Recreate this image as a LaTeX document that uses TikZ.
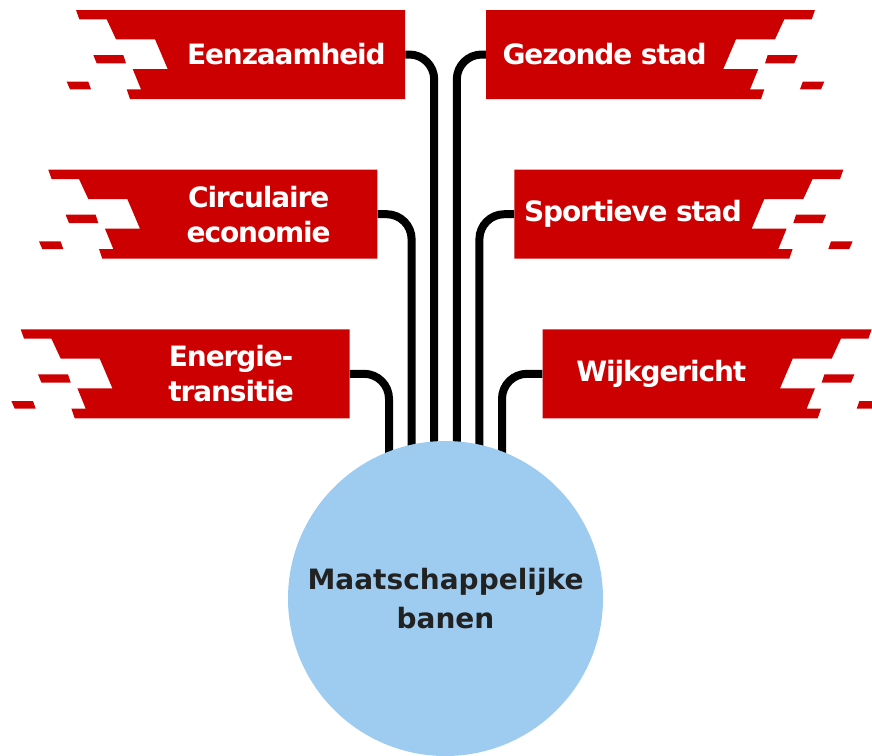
\documentclass[tikz,border=0pt]{standalone}
\usepackage{fontspec}
\setmainfont{DejaVu Sans}
\newfontfamily\flagfont[LetterSpace=-4]{DejaVu Sans}
\usetikzlibrary{positioning}
\definecolor{flagred}{RGB}{204,0,0}
\definecolor{hubblue}{RGB}{157,204,240}
\definecolor{hubtext}{RGB}{34,34,34}

\tikzset{
  flag/.pic={
    \fill[flagred] (0,0) -- (329,0) -- (329,89) -- (54,89) -- (50.7,79.3) -- (65,79.3)
      -- (56.7,59) -- (91.7,59) -- (79,29.3) -- (40,29.3) -- (30.7,9.3) -- (3.3,9.3) -- cycle;
    \fill[flagred] (17.3,45) -- (47.3,45) -- (50,53.3) -- (20.7,53.3) -- cycle;
    \fill[flagred] (-9.3,71.7) -- (12.3,71.7) -- (15,79.3) -- (-6,79.3) -- cycle;
  },
  flagtext/.style={text=white, font=\flagfont\bfseries\fontsize{28}{35}\selectfont, align=center,
    minimum width=237.3pt, minimum height=89pt, inner sep=0pt},
  link/.style={line width=8pt, rounded corners=25pt},
  hub/.style={circle, fill=hubblue, text=hubtext, minimum size=315pt, align=center,
    font=\bfseries\fontsize{28}{39}\selectfont}
}

\begin{document}
\begin{tikzpicture}[x=1pt,y=-1pt]
\useasboundingbox (0,0) rectangle (872,755);

% Flags left
\pic at (76,10) {flag};
\pic at (48.3,169.7) {flag};
\pic at (20.7,329.3) {flag};
\node[flagtext] (eenzaam) at (286.4,54.5) {Eenzaamheid};
\node[flagtext] (circulair) at (258.7,214.2) {Circulaire\\economie};
\node[flagtext] (energie) at (231.1,373.8) {Energie-\\transitie};

% Flags right
\pic[xscale=-1] at (815,10) {flag};
\pic[xscale=-1] at (843.3,169.7) {flag};
\pic[xscale=-1] at (871.7,329.3) {flag};
\node[flagtext] (gezond) at (604.6,54.5) {Gezonde stad};
\node[flagtext] (sport) at (632.9,214.2) {Sportieve stad};
\node[flagtext] (wijk) at (661.3,373.8) {Wijkgericht};

% Lines into the circle
\coordinate (inE) at (389,520);
\coordinate (inC) at (411.6,520);
\coordinate (inZ) at (434.2,520);
\coordinate (inG) at (456.8,520);
\coordinate (inS) at (479.4,520);
\coordinate (inW) at (502,520);
\draw[link] (energie.east) -| (inE);
\draw[link] (circulair.east) -| (inC);
\draw[link] (eenzaam.east) -| (inZ);
\draw[link] (gezond.west) -| (inG);
\draw[link] (sport.west) -| (inS);
\draw[link] (wijk.west) -| (inW);

% Circle
\node[hub] (banen) at (445.5,598.5) {Maatschappelijke\\banen};
\end{tikzpicture}
\end{document}
